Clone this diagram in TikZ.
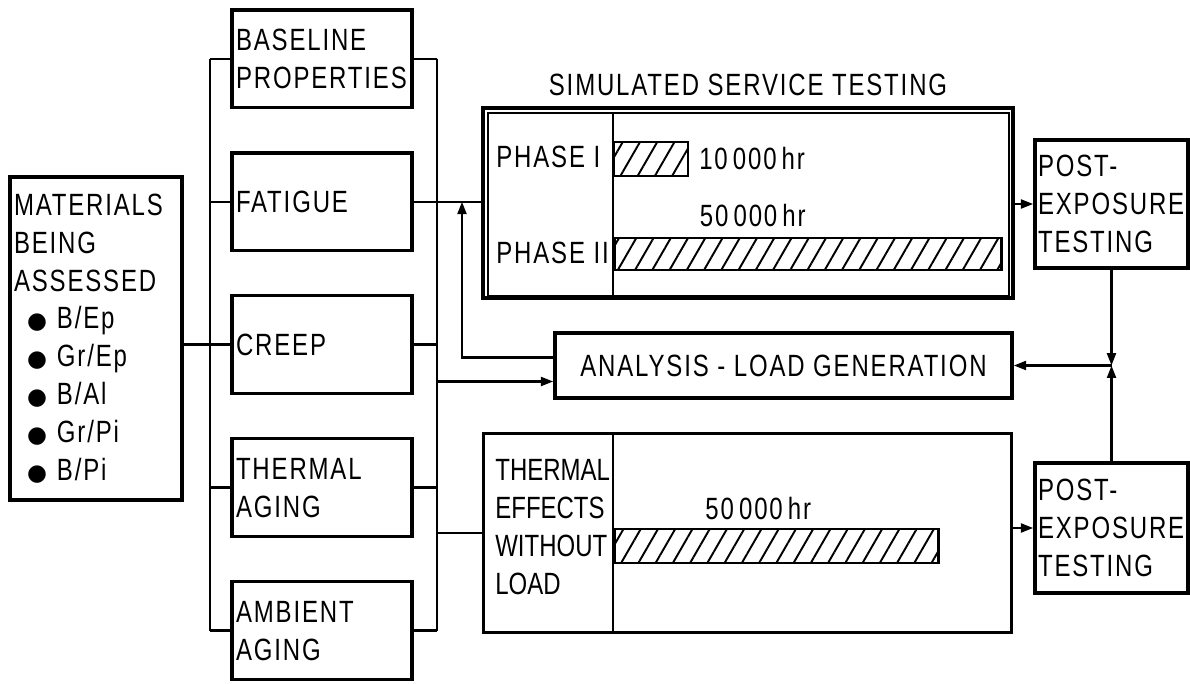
\documentclass[tikz,border=0pt]{standalone}
\usepackage{fontspec}
\setmainfont{Liberation Sans}[FakeStretch=0.78,LetterSpace=6]
\newfontfamily\dotfont{DejaVu Sans}
\usetikzlibrary{arrows.meta, positioning, patterns.meta}

\newcommand{\matitem}[1]{\hspace*{0.26cm}{\dotfont\fontsize{13}{13}\selectfont ●}\hspace{0.2cm}#1}

\begin{document}
\begin{tikzpicture}[
    x=0.02cm, y=-0.02cm,
    node distance=0.83cm,
    font=\fontsize{17.5}{21.5}\selectfont,
    box/.style={rectangle, draw, line width=2pt, minimum width=3.6cm, minimum height=1.96cm, text width=3.44cm, inner xsep=0.08cm, align=left},
    panel/.style={rectangle, draw, line width=1.7pt},
    lbl/.style={inner sep=0pt, align=left},
    link/.style={line width=1.4pt},
    arrow/.style={link, -{Triangle[length=7pt, width=5pt]}},
    bar/.style={draw, line width=1.5pt, inner sep=0pt, pattern={Lines[angle=60, distance=8.5pt, line width=1.1pt]}},
]
\useasboundingbox (0,0) rectangle (1190,683);

% Materials
\node[box, minimum width=3.44cm, minimum height=6.46cm, text width=3.28cm, inner xsep=0.08cm] (mat) at (96,338.5)
    {MATERIALS\\BEING\\ASSESSED\\\matitem{B/Ep}\\\matitem{Gr/Ep}\\\matitem{B/Al}\\\matitem{Gr/Pi}\\\matitem{B/Pi}};

% Test types
\node[box, anchor=north] (base) at (322,8) {BASELINE\\PROPERTIES};
\node[box, below=of base] (fat) {FATIGUE};
\node[box, below=of fat] (cr) {CREEP};
\node[box, below=of cr] (th) {THERMAL\\AGING};
\node[box, below=of th] (amb) {AMBIENT\\AGING};

% Bus lines
\coordinate (lb) at (210,0);
\coordinate (rb) at (437,0);
\foreach \n in {base,fat,cr,th,amb} {
    \draw[link] (\n.west -| lb) -- (\n.west);
    \draw[link] (\n.east) -- (\n.east -| rb);
}
\draw[link] (base.west -| lb) -- (amb.west -| lb);
\draw[link] (base.east -| rb) -- (amb.east -| rb);
\draw[link] (mat.east |- cr.west) -- (cr.west -| lb);

% Simulated service testing
\node[draw, line width=2.6pt, minimum width=10.6cm, minimum height=3.8cm] (sst) at (748,203) {};
\draw[line width=1.2pt] ([shift={(7,7)}]sst.north west) rectangle ([shift={(-6,-4)}]sst.south east);
\node[lbl, above=0.2cm of sst] (ttl) {SIMULATED SERVICE TESTING};
\coordinate (dv) at (613,0);
\draw[link] ([shift={(0,7)}]sst.north -| dv) -- ([shift={(0,-4)}]sst.south -| dv);
\node[lbl, anchor=west] (ph1) at (496,157) {PHASE I};
\node[lbl, anchor=west] (ph2) at (496,253) {PHASE II};
\node[bar, minimum width=1.48cm, minimum height=0.68cm, anchor=west] (bar1) at (613,159) {};
\node[bar, minimum width=7.74cm, minimum height=0.64cm, anchor=west] (bar2) at (613,254) {};
\node[lbl, right=0.2cm of bar1] (hr1) {10\,000\,hr};
\node[lbl, above=0.2cm of bar2, xshift=-1.1cm] (hr2) {50\,000\,hr};

% Analysis
\node[panel, line width=2pt, minimum width=9.14cm, minimum height=1.3cm] (an) at (783.5,365.5) {ANALYSIS - LOAD GENERATION};

% Thermal effects without load
\node[panel, minimum width=10.58cm, minimum height=4cm] (te) at (747.5,533) {};
\draw[link] (te.north -| dv) -- (te.south -| dv);
\node[lbl, anchor=west, font=\fontsize{17.5}{21.5}\selectfont\addfontfeatures{LetterSpace=0}] (telbl) at (495,527) {THERMAL\\EFFECTS\\WITHOUT\\LOAD};
\node[bar, minimum width=6.48cm, minimum height=0.68cm, anchor=west] (bar3) at (613,546) {};
\node[lbl, above=0.16cm of bar3, xshift=-0.36cm] (hr3) {50\,000\,hr};

% Post-exposure testing
\node[box, minimum width=3.06cm, minimum height=2.56cm, text width=2.94cm, inner xsep=0.06cm] (pe1) at (1111.5,204) {POST-\\EXPOSURE\\TESTING};
\node[box, minimum width=3.06cm, minimum height=2.6cm, text width=2.94cm, inner xsep=0.06cm] (pe2) at (1111.5,528) {POST-\\EXPOSURE\\TESTING};

% Flow
\draw[link] (fat.east) -- (fat.east -| sst.west);
\coordinate (fb) at (462,0);
\coordinate (anout) at ([shift={(0,-8)}]an.west);
\coordinate (anin) at ([shift={(0,16)}]an.west);
\draw[arrow] (anout) -| (fb |- fat.east);
\draw[arrow] (anin -| rb) -- (anin);
\draw[link] (te.west -| rb) -- (te.west);
\draw[arrow] (sst.east |- pe1.west) -- (pe1.west);
\draw[arrow] (te.east |- pe2.west) -- (pe2.west);
\coordinate (jn) at (pe1.south |- an.east);
\draw[arrow] (pe1.south) -- (jn);
\draw[arrow] (pe2.north) -- (jn);
\draw[arrow] (jn) -- (an.east);

\end{tikzpicture}
\end{document}
